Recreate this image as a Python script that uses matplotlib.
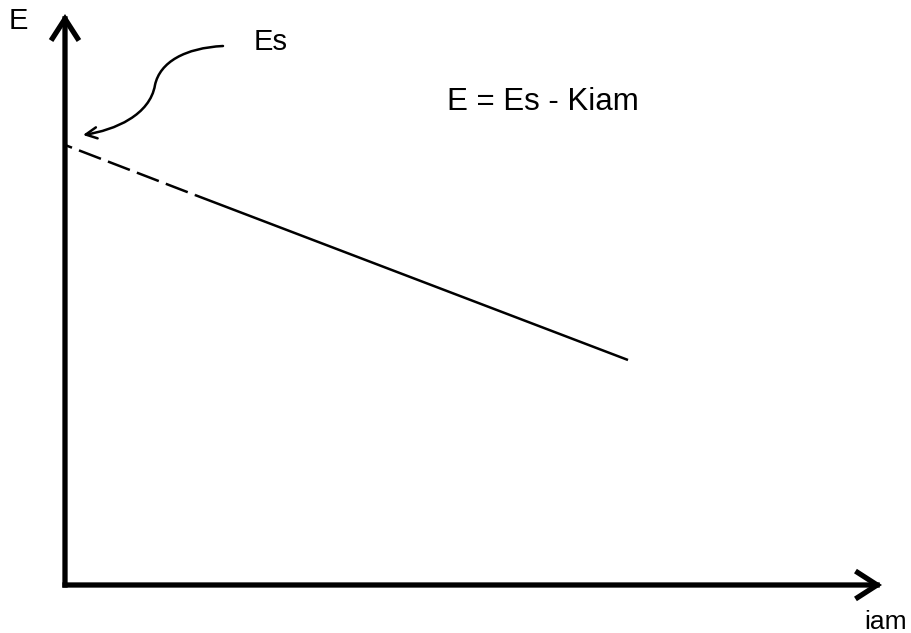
"""
Terminal voltage of a generator against armature current:
E = Es - K*iam, with the unloaded part drawn dashed.
"""

import matplotlib
matplotlib.use('Agg')
import matplotlib.pyplot as plt
from matplotlib.path import Path
from matplotlib.patches import FancyArrowPatch


# armature current and voltage along the characteristic
i_dashed = [0, 130]
e_dashed = [440, 390]
i_solid = [130, 563]
e_solid = [390, 225]

# axis extents
i_max = 817
e_max = 571

# pointer from the Es label down to the intercept
es_curve = [(158, 539), (120, 537), (95, 523), (90, 500),
            (85, 470), (50, 455), (18, 450)]


def main():
    plt.rcParams['font.family'] = ['Liberation Sans', 'DejaVu Sans']

    fig = plt.figure(figsize=(9.11, 6.33), dpi=100)
    ax = fig.add_axes([0, 0, 1, 1])
    ax.set_xlim(-65, 846)
    ax.set_ylim(-48, 585)
    ax.axis('off')

    head = '->,head_length=14,head_width=9'
    for tip in [(0, e_max), (i_max, 0)]:
        axis_arrow = FancyArrowPatch((0, 0), tip, arrowstyle=head,
                                     mutation_scale=1, lw=3.8,
                                     color='black', shrinkA=0,
                                     shrinkB=0, capstyle='projecting',
                                     joinstyle='miter')
        ax.add_patch(axis_arrow)

    ax.plot(i_dashed, e_dashed, color='black', lw=1.8,
            linestyle=(6.4, (9.4, 3.0)), solid_capstyle='butt',
            dash_capstyle='butt')
    ax.plot(i_solid, e_solid, color='black', lw=1.8,
            solid_capstyle='butt')

    codes = [Path.MOVETO] + [Path.CURVE4] * 6
    path = Path(es_curve, codes)
    curve = FancyArrowPatch(path=path,
                            arrowstyle='->,head_length=8,head_width=4',
                            lw=1.8, color='black', mutation_scale=1)
    ax.add_patch(curve)

    ax.text(-56, 564, 'E', fontsize=21, va='center', ha='left')
    ax.text(189, 543, 'Es', fontsize=21, va='center', ha='left')
    ax.text(382, 483, 'E = Es - Kiam', fontsize=22.5, va='center',
            ha='left')
    ax.text(799, -37, 'iam', fontsize=19, va='center', ha='left')

    fig.savefig('out.png', dpi=100)


if __name__ == '__main__':
    main()
